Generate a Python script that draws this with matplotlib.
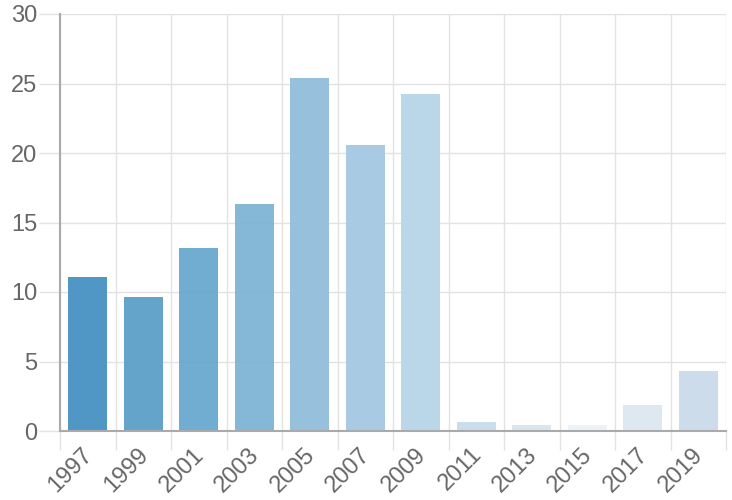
import numpy as np
import matplotlib.pyplot as plt
import matplotlib.transforms as mtransforms

years = ['1997', '1999', '2001', '2003', '2005', '2007', '2009',
         '2011', '2013', '2015', '2017', '2019']
values = [11.05, 9.62, 13.15, 16.33, 25.4, 20.6, 24.25,
          0.65, 0.45, 0.45, 1.85, 4.32]
colors = ['#4792c3', '#5c9fc9', '#69a8cf', '#7eb4d5', '#91bdda', '#a4c8e1',
          '#b7d5e8', '#c6dcec', '#d5e5f1', '#ebf3f8', '#dce7f1', '#cadbea']

plt.rcParams['font.family'] = ['Liberation Sans', 'DejaVu Sans']

fig = plt.figure(figsize=(7.32, 5), dpi=100)
ax = fig.add_axes([60 / 732, 69 / 500, 666 / 732, 417 / 500])

x = np.arange(len(years))
ax.bar(x, values, width=0.71, color=colors, alpha=0.95, zorder=3)

ax.set_xlim(-0.5, len(years) - 0.5)
ax.set_ylim(0, 30)
ax.set_yticks(np.arange(0, 31, 5))

# gridlines sit between categories, labels at the centres
ax.set_xticks(x)
ax.set_xticklabels(years, rotation=45, ha='right', va='top', rotation_mode='anchor')
ax.set_xticks(np.arange(-0.5, len(years)), minor=True)
ax.tick_params(axis='x', which='major', length=0, pad=9)
ax.tick_params(axis='x', which='minor', length=14, width=1, color='#e2e2e2')
ax.tick_params(axis='y', length=15, width=1, color='#e2e2e2', pad=1.5)
ax.tick_params(labelsize=17, labelcolor='#666666')

# nudge the rotated labels a little to the left
shift = mtransforms.ScaledTranslation(-6 / 100, 0, fig.dpi_scale_trans)
for lab in ax.get_xticklabels():
    lab.set_transform(lab.get_transform() + shift)

ax.grid(True, which='minor', axis='x', color='#e2e2e2', linewidth=1, zorder=0)
ax.grid(True, which='major', axis='y', color='#e2e2e2', linewidth=1, zorder=0)

for s in ['top', 'right']:
    ax.spines[s].set_visible(False)
for s in ['left', 'bottom']:
    ax.spines[s].set_color('#aaaaaa')
    ax.spines[s].set_linewidth(1.5)
    ax.spines[s].set_zorder(4)

fig.savefig('out.png', dpi=100)
